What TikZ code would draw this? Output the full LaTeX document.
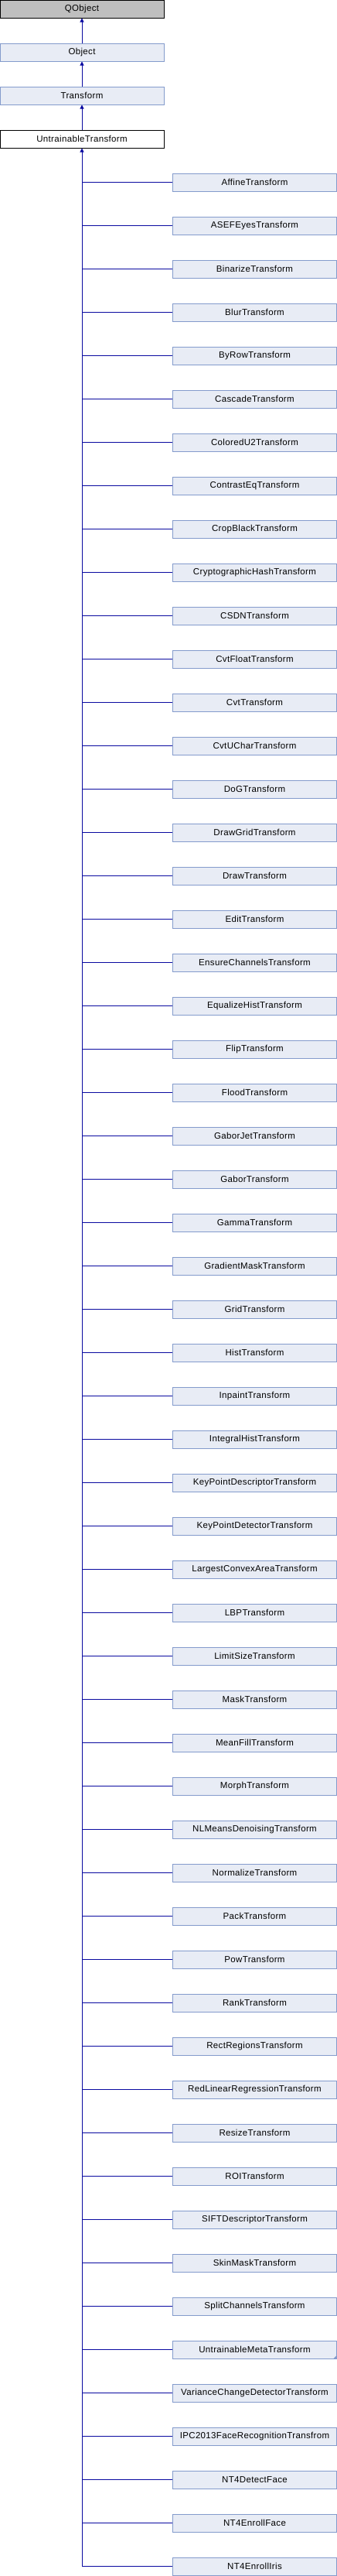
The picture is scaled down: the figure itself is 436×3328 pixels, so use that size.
\documentclass[tikz,border=0pt]{standalone}
\usepackage{fontspec}
\setmainfont{Liberation Sans}[LetterSpace=3]
\usetikzlibrary{arrows.meta}
\definecolor{boxfill}{RGB}{232,236,245}
\definecolor{boxline}{RGB}{132,155,204}
\definecolor{qfill}{RGB}{191,191,191}
\definecolor{linkblue}{RGB}{10,10,160}
\begin{document}
\begin{tikzpicture}[x=1pt,y=-1pt,
    cls/.style={draw=boxline,fill=boxfill,line width=1pt,minimum width=212pt,minimum height=23pt,inner sep=0pt,font=\fontsize{11.5}{13}\selectfont},
    extcls/.style={cls,draw=black,fill=qfill},
    curcls/.style={cls,draw=black,fill=white},
    link/.style={draw=linkblue,line width=1pt},
    inherit/.style={link,-{Triangle[length=5pt,width=5pt]}}]
    \useasboundingbox (0,0) rectangle (436,3328);
    \node[extcls] (QObject) at (106,11.5) {QObject};
    \node[cls] (Object) at (106,67.5) {Object};
    \node[cls] (Transform) at (106,123.5) {Transform};
    \node[curcls] (UntrainableTransform) at (106,179.5) {UntrainableTransform};
    \draw[inherit] (Object) -- (QObject);
    \draw[inherit] (Transform) -- (Object);
    \draw[inherit] (UntrainableTransform) -- (Transform);
    \foreach \name [count=\i] in {AffineTransform,ASEFEyesTransform,BinarizeTransform,BlurTransform,ByRowTransform,CascadeTransform,ColoredU2Transform,ContrastEqTransform,CropBlackTransform,CryptographicHashTransform,CSDNTransform,CvtFloatTransform,CvtTransform,CvtUCharTransform,DoGTransform,DrawGridTransform,DrawTransform,EditTransform,EnsureChannelsTransform,EqualizeHistTransform,FlipTransform,FloodTransform,GaborJetTransform,GaborTransform,GammaTransform,GradientMaskTransform,GridTransform,HistTransform,InpaintTransform,IntegralHistTransform,KeyPointDescriptorTransform,KeyPointDetectorTransform,LargestConvexAreaTransform,LBPTransform,LimitSizeTransform,MaskTransform,MeanFillTransform,MorphTransform,NLMeansDenoisingTransform,NormalizeTransform,PackTransform,PowTransform,RankTransform,RectRegionsTransform,RedLinearRegressionTransform,ResizeTransform,ROITransform,SIFTDescriptorTransform,SkinMaskTransform,SplitChannelsTransform,UntrainableMetaTransform,VarianceChangeDetectorTransform,IPC2013FaceRecognitionTransfrom,NT4DetectFace,NT4EnrollFace,NT4EnrollIris}
    {
        \node[cls] (\name) at (329.5,179.5+56*\i) {\name};
        \draw[link] (\name.west) -- (\name.west -| UntrainableTransform.south);
    }
    \fill[boxline] (UntrainableMetaTransform.south east) ++(-0.5,-0.5) -- ++(-4,0) -- ++(4,-4) -- cycle;
    \draw[inherit] (NT4EnrollIris.west -| UntrainableTransform.south) -- (UntrainableTransform.south);
\end{tikzpicture}
\end{document}
